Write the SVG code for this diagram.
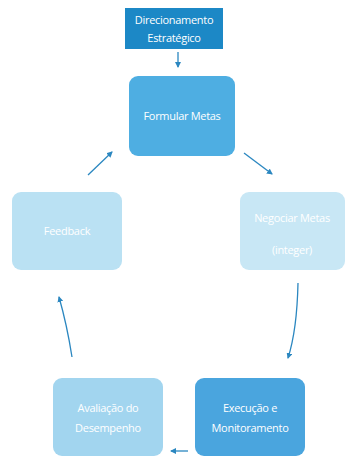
<svg xmlns="http://www.w3.org/2000/svg" width="347" height="459" viewBox="0 0 347 459">
<style>
text{font-family:"Open Sans","Liberation Sans",sans-serif;fill:#fff;text-anchor:middle;font-size:11px;letter-spacing:-0.3px}
.c{fill:none;stroke:#2b87c0;stroke-width:1.3}
</style>
<defs>
<marker id="ah" markerWidth="6" markerHeight="6" refX="5" refY="3" orient="auto" markerUnits="userSpaceOnUse">
<path d="M0,0 L6,3 L0,6 Z" fill="#2b87c0"/>
</marker>
</defs>
<rect width="347" height="459" fill="#fff"/>
<g id="direcionamento">
<rect x="125" y="8" width="98" height="41" fill="#1c88c6"/>
<text x="174" y="24">Direcionamento</text>
<text x="174" y="42">Estratégico</text>
</g>
<g id="formular">
<rect x="129" y="76" width="106" height="80" rx="9" fill="#4eaee2"/>
<text x="182" y="120" font-size="12">Formular Metas</text>
</g>
<g id="negociar">
<rect x="240" y="192" width="105" height="78" rx="9" fill="#c8e7f5"/>
<text x="292" y="222" font-size="12">Negociar Metas</text>
<text x="292" y="254" font-size="12">(integer)</text>
</g>
<g id="execucao">
<rect x="195" y="378" width="110" height="78" rx="9" fill="#4aa5de"/>
<text x="250" y="412" font-size="11.5">Execução  e</text>
<text x="250" y="432" font-size="11.5">Monitoramento</text>
</g>
<g id="avaliacao">
<rect x="53" y="378" width="110" height="78" rx="9" fill="#a2d5ef"/>
<text x="108" y="412" font-size="11.5">Avaliação do</text>
<text x="108" y="432" font-size="11.5">Desempenho</text>
</g>
<g id="feedback">
<rect x="12" y="192" width="110" height="78" rx="9" fill="#bae1f3"/>
<text x="67" y="235">Feedback</text>
</g>
<g id="connectors">
<path class="c" d="M178,52 L178,67" marker-end="url(#ah)"/>
<path class="c" d="M244,153 L272,174" marker-end="url(#ah)"/>
<path class="c" d="M298,283 Q297,330 288,358" marker-end="url(#ah)"/>
<path class="c" d="M188,451 L171,451" marker-end="url(#ah)"/>
<path class="c" d="M72,357 Q67,325 59,297" marker-end="url(#ah)"/>
<path class="c" d="M88,175 L112,152" marker-end="url(#ah)"/>
</g>
</svg>
